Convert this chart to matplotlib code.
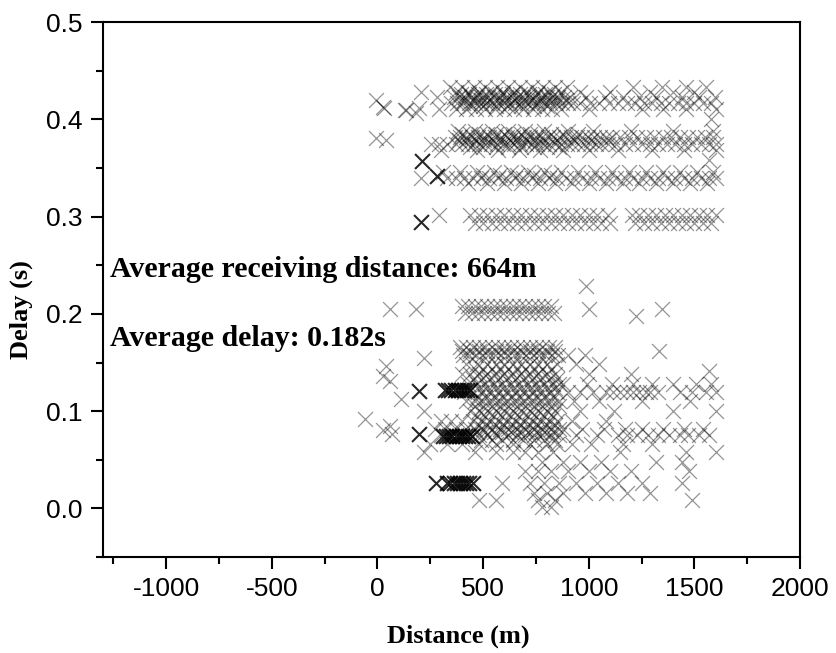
import matplotlib
matplotlib.use("Agg")
import matplotlib.pyplot as plt
from matplotlib.ticker import MultipleLocator

plt.rcParams["axes.unicode_minus"] = False

# delay row (s) -> receiving distances (m)
upper_rows = {
    0.433: [345, 400, 455, 510, 565, 620, 675, 730, 785, 840, 895, 1210, 1347, 1461, 1555],
    0.428: [208, 372, 428, 482, 538, 592, 648, 702, 758, 812, 868, 960, 1100, 1290, 1400, 1500],
    0.423: [284, 360, 388, 415, 442, 470, 497, 525, 552, 580, 607, 635, 662, 690, 717, 745,
            772, 800, 827, 855, 882, 910, 985, 1075, 1160, 1240, 1320, 1440, 1520, 1598],
    0.417: [350, 378, 405, 432, 460, 488, 515, 542, 570, 598, 625, 652, 680, 708, 735, 762,
            790, 818, 845, 872, 900, 925, 960, 1005, 1050, 1095, 1140, 1180, 1220, 1260,
            1300, 1340, 1380, 1420, 1460, 1500, 1540, 1580],
    0.411: [292, 372, 420, 465, 510, 555, 600, 645, 690, 735, 780, 825, 870, 1000, 1250, 1350, 1460, 1600],
    0.400: [1580],
    0.388: [380, 460, 540, 620, 700, 790, 900, 1020, 1200, 1400, 1590],
    0.382: [365, 392, 420, 447, 475, 502, 530, 557, 585, 612, 640, 667, 695, 722, 750, 777,
            805, 832, 860, 887, 915, 942, 970, 997, 1025, 1052, 1080, 1110, 1150, 1190,
            1230, 1270, 1310, 1350, 1390, 1430, 1470, 1510, 1550, 1590],
    0.375: [255, 290, 330, 372, 400, 427, 455, 482, 510, 537, 565, 592, 620, 647, 675, 702,
            730, 757, 785, 812, 840, 867, 895, 922, 950, 977, 1005, 1032, 1060, 1090, 1130,
            1170, 1210, 1250, 1290, 1330, 1370, 1410, 1450, 1490, 1530, 1570, 1600],
    0.369: [300, 470, 570, 670, 770, 880, 1000, 1140, 1300, 1450, 1600],
    0.358: [1570],
    0.346: [310, 390, 470, 550, 630, 710, 790, 870, 950, 1030, 1110, 1190, 1270, 1350, 1430, 1510, 1590],
    0.340: [208, 330, 370, 410, 450, 490, 530, 570, 610, 650, 690, 730, 770, 810, 850, 890,
            930, 970, 1010, 1050, 1090, 1130, 1170, 1210, 1250, 1290, 1330, 1370, 1410,
            1450, 1490, 1530, 1570, 1600],
    0.335: [430, 520, 600, 680, 760, 840, 920, 1000, 1080, 1160, 1240, 1320, 1400, 1480, 1560],
    0.302: [292, 440, 480, 520, 560, 600, 640, 680, 720, 760, 800, 840, 880, 920, 960, 1000,
            1040, 1090, 1205, 1240, 1280, 1320, 1360, 1400, 1440, 1480, 1520, 1560, 1600],
    0.294: [460, 500, 540, 580, 620, 660, 700, 740, 780, 820, 860, 900, 940, 980, 1020, 1060,
            1100, 1220, 1260, 1300, 1340, 1380, 1420, 1460, 1500, 1540, 1580],
}

# extra receptions in the darkest parts of the upper bands
upper_dense_rows = {
    0.426: [395, 435, 475, 515, 555, 595, 635, 675, 715, 755, 795, 835],
    0.420: [410, 450, 490, 530, 570, 610, 650, 690, 730, 770, 810, 850, 890],
    0.414: [440, 500, 560, 620, 680, 740, 800],
    0.385: [400, 440, 480, 520, 560, 600, 640, 680, 720, 760, 820, 880, 950],
    0.379: [385, 425, 465, 505, 545, 585, 625, 665, 705, 745, 785, 850, 930, 1010, 1090],
    0.372: [440, 500, 560, 620, 680, 740, 800, 860],
    0.343: [500, 580, 660, 740, 820],
}

upper_single_x = [-5, 24, 33, 128, 137, 184, 198, -5, 42]
upper_single_y = [0.420, 0.413, 0.412, 0.410, 0.410, 0.407, 0.412, 0.381, 0.379]

lower_rows = {
    0.208: [400, 430, 460, 490, 520, 550, 580, 610, 640, 670, 700, 730, 760, 790, 820],
    0.201: [415, 445, 475, 505, 535, 565, 595, 625, 655, 685, 715, 745, 775, 805, 835],
    0.166: [390, 420, 450, 480, 510, 540, 570, 600, 630, 660, 690, 720, 750, 780, 810, 840],
    0.158: [405, 435, 465, 495, 525, 555, 585, 615, 645, 675, 705, 735, 765, 795, 825, 855, 900, 980],
    0.148: [420, 470, 520, 560, 600, 640, 680, 720, 760, 800, 850, 940, 1050],
    0.138: [400, 440, 480, 520, 560, 600, 640, 680, 720, 760, 800, 840, 1000, 1200],
    0.128: [430, 470, 510, 550, 590, 630, 670, 710, 750, 790, 830, 860, 880, 990, 1110, 1210,
            1300, 1400, 1508, 1580],
    0.120: [410, 450, 490, 530, 570, 610, 650, 690, 730, 770, 810, 850, 900, 960, 1020, 1080,
            1115, 1150, 1180, 1210, 1240, 1270, 1290, 1330, 1430, 1490, 1556, 1600],
    0.110: [420, 460, 500, 540, 580, 620, 660, 700, 740, 780, 820, 860, 930, 1050, 1250, 1480],
    0.100: [222, 440, 480, 520, 560, 600, 640, 680, 720, 760, 800, 840, 960, 1120, 1400, 1600],
    0.090: [300, 350, 400, 450, 490, 530, 570, 610, 650, 690, 730, 770, 810, 850, 922, 1080],
    0.082: [270, 320, 370, 420, 460, 500, 540, 580, 620, 660, 700, 740, 780, 820, 860, 880,
            970, 1070, 1170, 1250, 1350, 1450, 1540],
    0.075: [300, 350, 400, 440, 480, 520, 560, 620, 660, 700, 740, 780, 820, 860, 940, 1040,
            1140, 1180, 1230, 1280, 1330, 1380, 1430, 1470, 1520, 1570],
    0.066: [250, 330, 400, 480, 560, 640, 720, 800, 850, 920, 1010, 1160, 1300],
    0.058: [222, 460, 560, 640, 700, 760, 830, 1150, 1460, 1600],
    0.048: [780, 880, 960, 1060, 1318, 1442],
    0.038: [700, 760, 820, 900, 1000, 1100, 1200, 1475],
    0.026: [591, 720, 790, 860, 940, 1040, 1140, 1250, 1442],
    0.016: [740, 800, 880, 980, 1080, 1180, 1290],
    0.009: [482, 562, 760, 840, 1490],
    0.001: [780, 820],
}

# extra receptions in the dark block below 0.17 s
lower_dense_rows = {
    0.162: [400, 440, 480, 520, 560, 600, 640, 680, 720, 760, 800, 840],
    0.143: [460, 500, 540, 580, 620, 660, 700, 740, 780, 820],
    0.133: [450, 490, 530, 570, 610, 650, 690, 730, 770, 810, 850],
    0.124: [480, 520, 560, 600, 640, 680, 720, 760, 800, 840],
    0.115: [470, 510, 550, 590, 630, 670, 710, 750, 790, 830],
    0.105: [460, 500, 540, 580, 620, 660, 700, 740, 780, 820, 860],
    0.095: [470, 510, 550, 590, 630, 670, 710, 750, 790, 830],
    0.086: [480, 520, 560, 600, 640, 680, 720, 760, 800, 840],
    0.079: [470, 510, 550, 590, 630, 670, 710, 750, 790, 830],
    0.070: [490, 540, 590, 640, 690, 740, 790, 840],
}

lower_single_x = [57, 184, 988, 1002, 1225, 1347, 1333, 1570, 222, 42, 24, 57, 113, -61, 24, 57, 71]
lower_single_y = [0.205, 0.205, 0.229, 0.205, 0.198, 0.205, 0.162, 0.141, 0.155, 0.146, 0.136,
                  0.131, 0.113, 0.092, 0.081, 0.085, 0.076]

# dark (overplotted) receptions
dark_x = [212, 283, 208, 198, 198, 278,
          320, 335, 350, 365, 380, 395, 410, 425, 440,
          310, 325, 340, 355, 370, 385, 400, 415, 430, 445,
          330, 345, 360, 375, 390, 405, 420, 435, 450]
dark_y = [0.357, 0.342, 0.295, 0.121, 0.076, 0.026,
          0.122, 0.122, 0.122, 0.122, 0.122, 0.122, 0.122, 0.122, 0.122,
          0.074, 0.074, 0.074, 0.074, 0.074, 0.074, 0.074, 0.074, 0.074, 0.074,
          0.026, 0.026, 0.026, 0.026, 0.026, 0.026, 0.026, 0.026, 0.026]

gx, gy = [], []
for rows in (upper_rows, upper_dense_rows, lower_rows, lower_dense_rows):
    for d, xs in rows.items():
        gx += xs
        gy += [d] * len(xs)
gx += upper_single_x + lower_single_x
gy += upper_single_y + lower_single_y

fig = plt.figure(figsize=(8.36, 6.53), dpi=100)
ax = fig.add_axes([0.123, 0.147, 0.834, 0.819])

ax.scatter(gx, gy, marker="x", s=115, c="black", alpha=0.42, linewidths=0.9)
ax.scatter(dark_x, dark_y, marker="x", s=115, c="black", alpha=0.85, linewidths=1.5)

ax.set_xlim(-1300, 2000)
ax.set_ylim(-0.05, 0.5)
ax.xaxis.set_minor_locator(MultipleLocator(250))
ax.yaxis.set_minor_locator(MultipleLocator(0.05))
ax.set_xticks([-1000, -500, 0, 500, 1000, 1500, 2000])
ax.set_yticks([0.0, 0.1, 0.2, 0.3, 0.4, 0.5])
ax.set_yticklabels(["0.0", "0.1", "0.2", "0.3", "0.4", "0.5"])

for s in ax.spines.values():
    s.set_linewidth(1.5)
ax.tick_params(which="major", direction="out", length=8.5, width=1.5, pad=6,
               labelsize=19, top=False, right=False)
ax.tick_params(which="minor", direction="out", length=5, width=1.5, top=False, right=False)
for lab in ax.get_xticklabels() + ax.get_yticklabels():
    lab.set_family("Liberation Sans")

serif = {"family": "Liberation Serif", "weight": "bold"}
ax.set_xlabel("Distance (m)", fontdict=serif, fontsize=19)
ax.set_ylabel("Delay (s)", fontdict=serif, fontsize=19)
ax.xaxis.set_label_coords(0.51, -0.127)
ax.yaxis.set_label_coords(-0.10, 0.462)

ax.text(-1267, 0.246, "Average receiving distance: 664m", fontdict=serif, fontsize=21.5,
        ha="left", va="center")
ax.text(-1267, 0.175, "Average delay: 0.182s", fontdict=serif, fontsize=21.5,
        ha="left", va="center")

fig.savefig("out.png", dpi=100)
